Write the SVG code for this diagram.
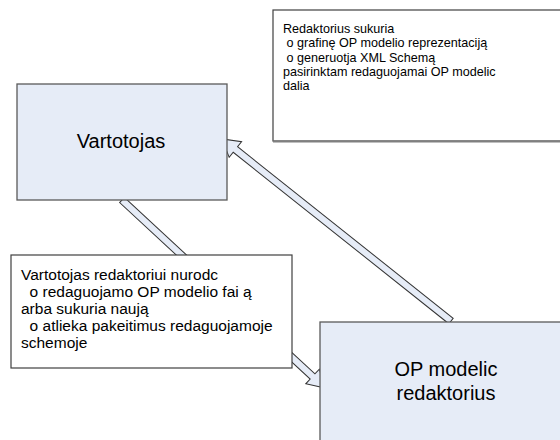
<svg xmlns="http://www.w3.org/2000/svg" width="560" height="440" viewBox="0 0 560 440">
  <defs>
    <style>
      .node { fill: #E6ECF7; stroke: #5a5a5a; stroke-width: 1.3; }
      .note { fill: #FFFFFF; stroke: #404040; stroke-width: 1.2; }
      .arrow { fill: #E6ECF7; stroke: #333333; stroke-width: 1; stroke-linejoin: miter; }
      .big { font-family: "Liberation Sans", Arial, sans-serif; font-size: 20px; fill: #000; text-anchor: middle; }
      .note-top { font-family: "Liberation Sans", Arial, sans-serif; font-size: 12.6px; fill: #000; }
      .note-low { font-family: "Liberation Sans", Arial, sans-serif; font-size: 15.5px; fill: #000; }
    </style>
  </defs>

  <rect width="560" height="440" fill="#FFFFFF"/>

  <!-- block arrows, drawn beneath the boxes -->
  <g id="connectors">
    <!-- Vartotojas -> OP modelio redaktorius -->
    <polygon class="arrow" transform="translate(122,200) rotate(42.8)"
             points="0,-3.5 259.7,-3.5 259.7,-10 276.7,0 259.7,10 259.7,3.5 0,3.5"/>
    <!-- OP modelio redaktorius -> Vartotojas -->
    <polygon class="arrow" transform="translate(451,321) rotate(218.5)"
             points="0,-3.5 275.5,-3.5 275.5,-10 292.5,0 275.5,10 275.5,3.5 0,3.5"/>
  </g>

  <g id="vartotojas">
    <rect class="node" x="17" y="84" width="210" height="116"/>
    <text class="big" x="121" y="148">Vartotojas</text>
  </g>

  <g id="redaktorius">
    <rect class="node" x="320" y="322" width="250" height="130"/>
    <text class="big" x="446" y="376">OP modelic</text>
    <text class="big" x="446" y="400">redaktorius</text>
  </g>

  <g id="note-redaktorius">
    <rect class="note" x="273" y="10" width="300" height="131"/>
    <line x1="273" y1="141.5" x2="560" y2="141.5" stroke="#808080" stroke-width="2"/>
    <text class="note-top" x="283" y="33">Redaktorius sukuria</text>
    <text class="note-top" x="283" y="47.3" xml:space="preserve"> o grafinę OP modelio reprezentaciją</text>
    <text class="note-top" x="283" y="61.5" xml:space="preserve"> o generuotja XML Schemą</text>
    <text class="note-top" x="283" y="75.8">pasirinktam redaguojamai OP modelic</text>
    <text class="note-top" x="283" y="90">dalia</text>
  </g>

  <g id="note-vartotojas">
    <rect class="note" x="11" y="255" width="281" height="113"/>
    <text class="note-low" x="21" y="280">Vartotojas redaktoriui nurodc</text>
    <text class="note-low" x="21" y="297" xml:space="preserve">  o redaguojamo OP modelio fai ą</text>
    <text class="note-low" x="21" y="314">arba sukuria naują</text>
    <text class="note-low" x="21" y="331" xml:space="preserve">  o atlieka pakeitimus redaguojamoje</text>
    <text class="note-low" x="21" y="348">schemoje</text>
  </g>
</svg>
